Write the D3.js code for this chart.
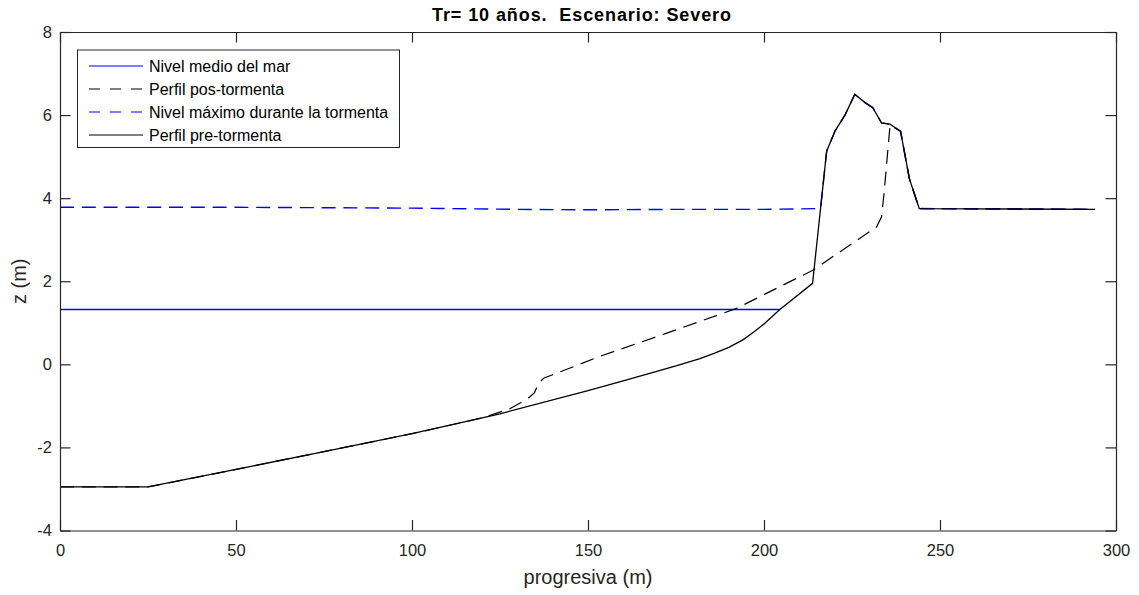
<!DOCTYPE html>
<html>
<head>
<meta charset="utf-8">
<script src="https://cdn.jsdelivr.net/npm/d3@7"></script>
<style>
  body { margin: 0; background: #fff; }
  svg { font-family: "Liberation Sans", Arial, sans-serif; }
  .axis text { fill: #262626; font-size: 16.5px; }
</style>
</head>
<body>
<svg width="1139" height="595"></svg>
<script>
// perfil pre-tormenta [progresiva, z]
var perfilPre = [
    [0, -2.95], [25, -2.95], [50, -2.53], [75, -2.10], [100, -1.67], [125, -1.19],
    [150, -0.63], [160, -0.40], [170, -0.16], [175, -0.04], [181.8, 0.14], [186, 0.27],
    [190, 0.41], [194, 0.59], [197, 0.77], [200, 0.97], [204.5, 1.32], [213.8, 1.95],
    [217.8, 5.13], [220.2, 5.62], [223, 6.0], [225.8, 6.5], [228.7, 6.3], [230.9, 6.18],
    [233.4, 5.81], [235.8, 5.78], [238.8, 5.61], [241.3, 4.47], [244.1, 3.75], [294, 3.73]
];

// perfil pos-tormenta
var perfilPos = [
    [0, -2.95], [25, -2.95], [50, -2.53], [75, -2.10], [100, -1.67], [120, -1.29],
    [127.8, -1.07], [133, -0.82], [134.8, -0.68], [136, -0.45], [137.5, -0.33], [140, -0.25],
    [153, 0.18], [172, 0.74], [192, 1.34], [214, 2.27], [232, 3.31], [233.4, 3.55],
    [234.1, 4.11], [235.8, 5.75], [238.8, 5.61], [241.3, 4.47], [244.1, 3.75], [294, 3.73]
];

// nivel medio del mar
var nivelMedio = [[0, 1.32], [204.5, 1.32]];

// nivel maximo durante la tormenta
var nivelMax = [
    [0, 3.78], [50, 3.78], [100, 3.76], [130, 3.73], [150, 3.72], [175, 3.73],
    [200, 3.73], [216.06, 3.75], [217.8, 5.13], [220.2, 5.62], [223, 6.0],
    [225.8, 6.5], [228.7, 6.3], [230.9, 6.18], [233.4, 5.81], [235.8, 5.78], [238.8, 5.61],
    [241.3, 4.47], [244.1, 3.75], [294, 3.73]
];

var xTicks = [0, 50, 100, 150, 200, 250, 300];
var yTicks = [-4, -2, 0, 2, 4, 6, 8];

var svg = d3.select('svg');

// plot box
var box = {l: 60, r: 1116, t: 32, b: 530.5};

var xScale = d3.scaleLinear().domain([0, 300]).range([box.l, box.r]);
var yScale = d3.scaleLinear().domain([-4, 8]).range([box.b, box.t]);

var axisColor = '#262626';
var tickLen = 10.5;
var dashPlot = '14,7.8';

// title
svg.append('text')
    .attr('x', 581.5)
    .attr('y', 21)
    .attr('text-anchor', 'middle')
    .attr('textLength', 299)
    .attr('lengthAdjust', 'spacing')
    .style('font-size', '18px')
    .style('font-weight', 'bold')
    .style('fill', '#000')
    .style('white-space', 'pre')
    .text('Tr= 10 años.  Escenario: Severo');

// data lines
var line = d3.line()
    .x(function(d) { return xScale(d[0]); })
    .y(function(d) { return yScale(d[1]); });

var plotG = svg.append('g');

plotG.append('path')
    .datum(nivelMedio)
    .attr('d', line)
    .attr('fill', 'none')
    .attr('stroke', '#0000ff')
    .attr('stroke-width', 1.3);

plotG.append('path')
    .datum(perfilPos)
    .attr('d', line)
    .attr('fill', 'none')
    .attr('stroke', '#000')
    .attr('stroke-width', 1.2)
    .attr('stroke-dasharray', dashPlot);

plotG.append('path')
    .datum(nivelMax)
    .attr('d', line)
    .attr('fill', 'none')
    .attr('stroke', '#0000ff')
    .attr('stroke-width', 1.4)
    .attr('stroke-dasharray', dashPlot);

plotG.append('path')
    .datum(perfilPre)
    .attr('d', line)
    .attr('fill', 'none')
    .attr('stroke', '#000')
    .attr('stroke-width', 1.3);

// axes
var fmt = function(d) { return String(d); };

svg.append('g').attr('class', 'axis')
    .attr('transform', 'translate(0,' + box.b + ')')
    .call(d3.axisBottom(xScale).tickValues(xTicks).tickFormat(fmt)
        .tickSizeInner(-tickLen).tickSizeOuter(0).tickPadding(14));
svg.append('g').attr('class', 'axis')
    .attr('transform', 'translate(0,' + box.t + ')')
    .call(d3.axisTop(xScale).tickValues(xTicks).tickFormat('')
        .tickSizeInner(-tickLen).tickSizeOuter(0));
svg.append('g').attr('class', 'axis')
    .attr('transform', 'translate(' + box.l + ',0)')
    .call(d3.axisLeft(yScale).tickValues(yTicks).tickFormat(fmt)
        .tickSizeInner(-tickLen).tickSizeOuter(0).tickPadding(8));
svg.append('g').attr('class', 'axis')
    .attr('transform', 'translate(' + box.r + ',0)')
    .call(d3.axisRight(yScale).tickValues(yTicks).tickFormat('')
        .tickSizeInner(-tickLen).tickSizeOuter(0));

svg.selectAll('.axis .domain').attr('stroke', axisColor).attr('stroke-width', 1.2);
svg.selectAll('.axis .tick line').attr('stroke', axisColor).attr('stroke-width', 1.2);
svg.selectAll('.axis').attr('font-family', null).attr('font-size', null);

// axis labels
svg.append('text')
    .attr('x', (box.l + box.r) / 2)
    .attr('y', 584)
    .attr('text-anchor', 'middle')
    .style('font-size', '20px')
    .style('fill', axisColor)
    .text('progresiva (m)');

svg.append('text')
    .attr('transform', 'translate(26,' + ((box.t + box.b) / 2) + ') rotate(-90)')
    .attr('text-anchor', 'middle')
    .style('font-size', '20px')
    .style('fill', axisColor)
    .text('z (m)');

// legend
var legendItems = [
    {label: 'Nivel medio del mar', color: '#0000ff', dash: null},
    {label: 'Perfil pos-tormenta', color: '#000', dash: '11,10'},
    {label: 'Nivel máximo durante la tormenta', color: '#0000ff', dash: '11,10'},
    {label: 'Perfil pre-tormenta', color: '#000', dash: null}
];

var legendG = svg.append('g');
legendG.append('rect')
    .attr('x', 77.5).attr('y', 50)
    .attr('width', 322).attr('height', 97.5)
    .attr('fill', '#fff')
    .attr('stroke', axisColor)
    .attr('stroke-width', 1);

var legendRows = legendG.selectAll('.legend-row')
    .data(legendItems)
    .enter()
    .append('g')
    .attr('class', 'legend-row')
    .attr('transform', function(d, i) {
        return 'translate(0,' + (66 + i * 23) + ')';
    });

legendRows.append('line')
    .attr('x1', 89).attr('x2', 143)
    .attr('stroke', function(d) { return d.color; })
    .attr('stroke-width', 1.2)
    .attr('stroke-dasharray', function(d) { return d.dash; });

legendRows.append('text')
    .attr('x', 149)
    .attr('dy', '0.35em')
    .style('font-size', '16px')
    .style('fill', '#000')
    .text(function(d) { return d.label; });
</script>
</body>
</html>
